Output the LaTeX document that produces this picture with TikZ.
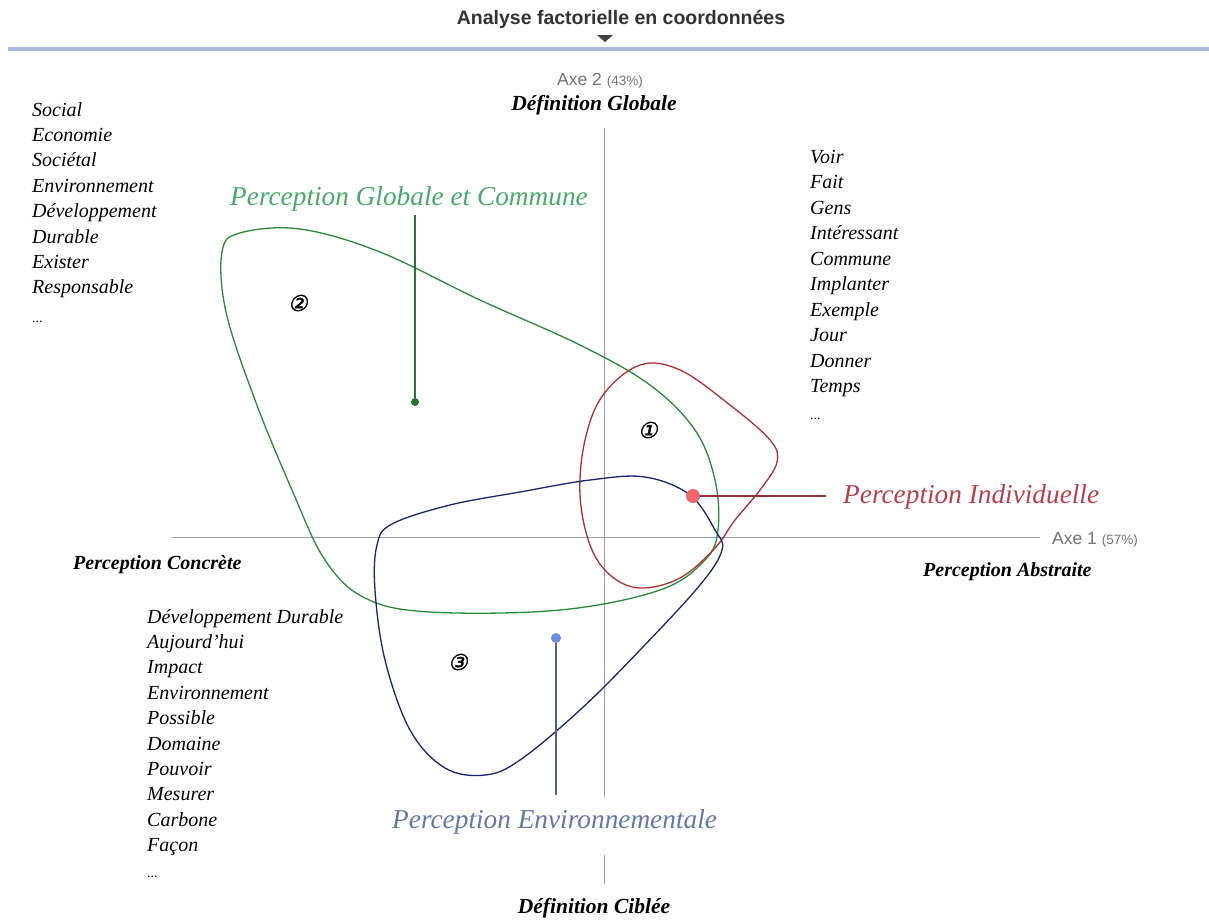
\documentclass[tikz,border=0pt]{standalone}
\usepackage{fontspec}
\setmainfont{Liberation Serif}
\newfontfamily\sansf{Liberation Sans}
\newfontfamily\cdfont[FakeSlant=0.2,FakeBold=1.5]{DejaVu Sans}
\definecolor{gcurve}{HTML}{2A8A3A}
\definecolor{rcurve}{HTML}{B03030}
\definecolor{bcurve}{HTML}{1C2470}
\definecolor{glab}{HTML}{4AAA6A}
\definecolor{rlab}{HTML}{B8404A}
\definecolor{blab}{HTML}{6478A8}
\definecolor{bdotc}{HTML}{6A8EE0}
\definecolor{rdotc}{HTML}{EE6670}
\definecolor{axisgray}{HTML}{A0A0A0}
\definecolor{bar}{HTML}{B0B8E0}
\tikzset{
  wordtxt/.style={font=\fontsize{20}{24}\selectfont\itshape, anchor=base west, inner sep=0pt},
  poletxt/.style={font=\fontsize{20}{24}\selectfont\bfseries\itshape, anchor=base, inner sep=0pt},
  bigtxt/.style={font=\fontsize{27.3}{32}\selectfont\itshape, anchor=base west, inner sep=0pt},
  axistxt/.style={font=\sansf\fontsize{17.5}{20}\selectfont, text=gray!90!black, anchor=base west, inner sep=0pt},
  numtxt/.style={font=\cdfont\fontsize{22}{24}\selectfont, inner sep=0pt},
  axisline/.style={draw=axisgray, line width=1pt},
  curve/.style={line width=1.3pt},
}
\begin{document}
\begin{tikzpicture}[x=1pt,y=-1pt]
\useasboundingbox[fill=white] (0,0) rectangle (1209,922);
% header
\node[font=\sansf\bfseries\fontsize{19.5}{22}\selectfont, text=black!80, anchor=base, inner sep=0pt] (title) at (621,24) {Analyse factorielle en coordonnées};
\fill[black!75] (597,35) -- (613,35) -- (605,42) -- cycle;
\draw[bar, line width=3.5pt] (8,49) -- (1209,49);
% axes
\coordinate (vtop) at (604,128);
\coordinate (vmid) at (604,797);
\coordinate (vlow1) at (604,855);
\coordinate (vlow2) at (604,884);
\coordinate (hleft) at (172,537);
\coordinate (hright) at (1040,537);
\draw[axisline] (vtop) -- (vmid);
\draw[axisline] (vlow1) -- (vlow2);
\draw[axisline] (hleft) -- (hright);
\node[axistxt] (ax2) at (557,85) {Axe 2 {\fontsize{13.5}{15}\selectfont (43\%)}};
\node[axistxt] (ax1) at (1052,544) {Axe 1 {\fontsize{13.5}{15}\selectfont (57\%)}};
% pole labels
\node[poletxt, font=\fontsize{21.5}{24}\selectfont\bfseries\itshape] (dg) at (594,110) {Définition Globale};
\node[poletxt, font=\fontsize{21.5}{24}\selectfont\bfseries\itshape] (dc) at (594,913) {Définition Ciblée};
\node[poletxt, anchor=base west] (pc) at (73,569) {Perception Concrète};
\node[poletxt, anchor=base west] (pa) at (923,576) {Perception Abstraite};
% word lists
\foreach \w [count=\i from 0] in {Social,Economie,Sociétal,Environnement,Développement,Durable,Exister,Responsable}
  \node[wordtxt] (la\i) at (32,116+25.4*\i) {\w};
\node[wordtxt, font=\fontsize{14}{16}\selectfont] (la8) at (32,322) {...};
\foreach \w [count=\i from 0] in {Voir,Fait,Gens,Intéressant,Commune,Implanter,Exemple,Jour,Donner,Temps}
  \node[wordtxt] (lb\i) at (810,163+25.5*\i) {\w};
\node[wordtxt, font=\fontsize{14}{16}\selectfont] (lb10) at (810,419) {...};
\foreach \w [count=\i from 0] in {Développement Durable,Aujourd’hui,Impact,Environnement,Possible,Domaine,Pouvoir,Mesurer,Carbone,Façon}
  \node[wordtxt] (lc\i) at (147,623+25.4*\i) {\w};
\node[wordtxt, font=\fontsize{14}{16}\selectfont] (lc10) at (147,877) {...};
% curves
\draw[curve, draw=gcurve] plot[smooth cycle, tension=0.6] coordinates {
 (222,252) (240,233) (300,229) (380,252) (480,300) (580,345) (650,385)
 (695,430) (715,480) (718,530) (705,560) (660,590) (560,610) (430,612)
 (365,598) (325,560) (292,490) (255,400) (226,312)};
\draw[curve, draw=rcurve] plot[smooth cycle, tension=0.6] coordinates {
 (640,365) (680,370) (730,405) (770,440) (777,462) (760,490) (735,520)
 (715,548) (680,578) (640,588) (610,575) (590,545) (580,495) (585,440) (603,395)};
\draw[curve, draw=bcurve] plot[smooth cycle, tension=0.6] coordinates {
 (392,524) (450,505) (520,492) (590,480) (645,477) (690,495) (715,530)
 (722,550) (700,585) (640,650) (580,710) (520,760) (485,775) (445,768)
 (410,730) (385,660) (375,590) (377,545)};
% cluster numbers
\node[numtxt] (n2) at (298,303) {②};
\node[numtxt] (n1) at (648,430) {①};
\node[numtxt] (n3) at (458,662) {③};
% big labels with connectors
\node[bigtxt, text=glab] (gl) at (230,205) {Perception Globale et Commune};
\node[circle, fill=gcurve!85!black, minimum size=8pt, inner sep=0pt] (gdot) at (415,402) {};
\draw[gcurve!85!black, line width=1.5pt] (gdot |- gl.south) ++(0,4) -- (gdot);
\node[bigtxt, text=rlab] (rl) at (843,503) {Perception Individuelle};
\node[circle, fill=rdotc, minimum size=14pt, inner sep=0pt] (rdot) at (693,496) {};
\coordinate (rend) at (826,496);
\draw[rlab!80!black, line width=2pt] (rdot) -- (rend);
\node[bigtxt, text=blab] (bl) at (392,828) {Perception Environnementale};
\node[circle, fill=bdotc, minimum size=10pt, inner sep=0pt] (bdot) at (556,638) {};
\coordinate (bend) at (556,795);
\draw[blab!80!black, line width=1.5pt] (bdot) -- (bend);
\end{tikzpicture}
\end{document}
